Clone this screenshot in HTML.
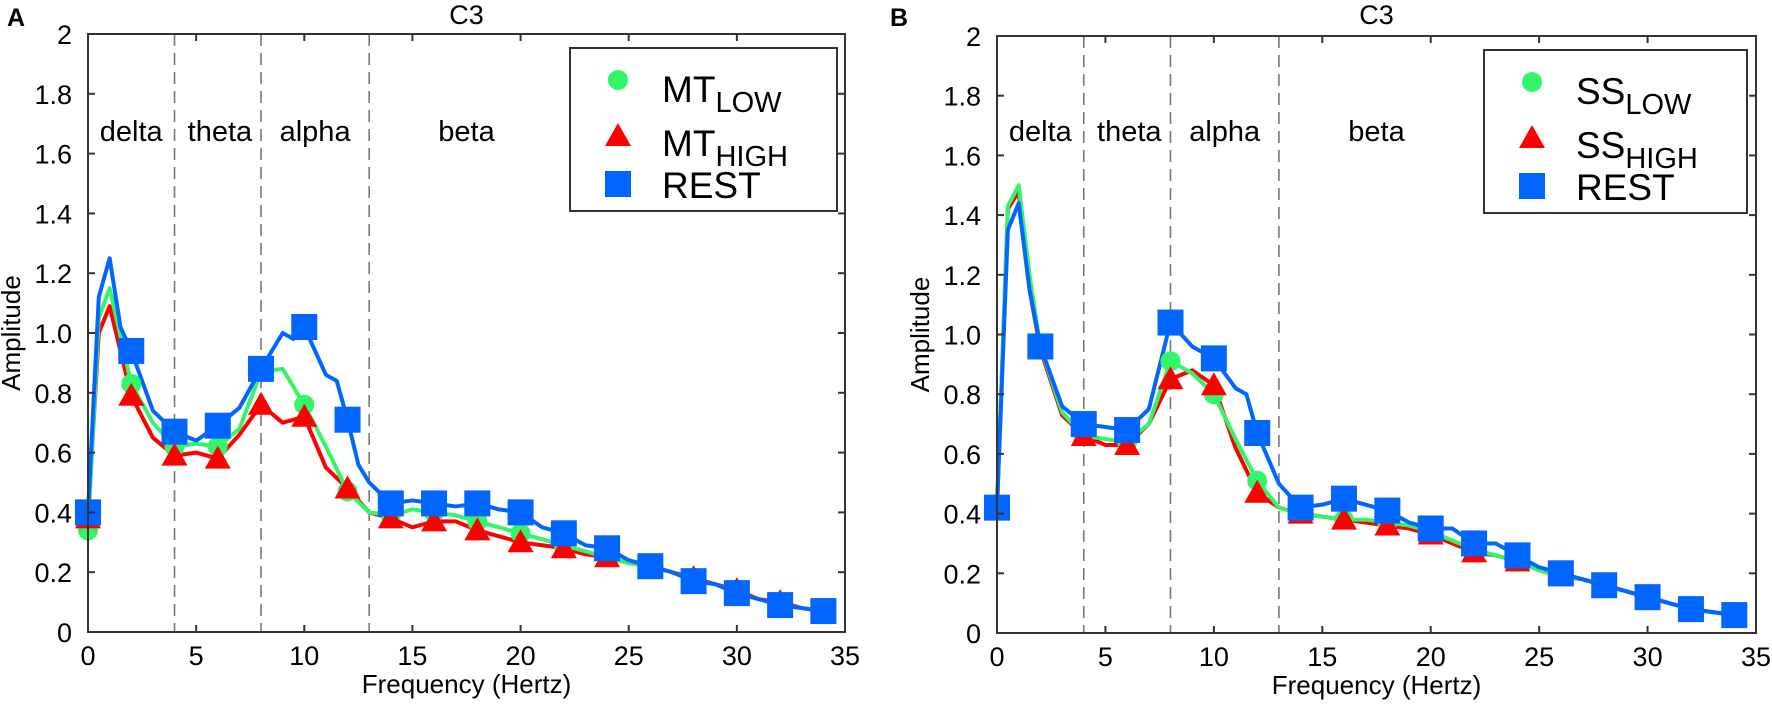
<!DOCTYPE html>
<html><head><meta charset="utf-8"><style>
html,body{margin:0;padding:0;background:#fff;}
svg{display:block;font-family:"Liberation Sans",sans-serif;}
</style></head><body>
<svg id="s" width="1772" height="705" xmlns="http://www.w3.org/2000/svg"></svg>
<script>
const S=document.getElementById('s');let h='';
const panels=[
{L:'A',lxL:7,x0:88,x1:845,y0:632,y2:34,lx:570,lx2:837,pre:'MT',
blue:[[0,.40],[.5,1.12],[1,1.25],[1.5,1.02],[2,.94],[3,.74],[4,.67],[5,.64],[6,.69],[7,.75],[8,.88],[9,1.0],[9.5,.98],[10,1.02],[11,.86],[11.5,.84],[12,.71],[12.5,.56],[13,.50],[14,.43],[15,.44],[16,.43],[17,.42],[18,.43],[19,.41],[20,.40],[21,.35],[22,.33],[23,.29],[24,.28],[25,.24],[26,.22],[27,.20],[28,.17],[29,.16],[30,.13],[31,.11],[32,.09],[33,.08],[34,.07]],
green:[[0,.34],[.5,1.05],[1,1.15],[2,.83],[3,.70],[4,.62],[5,.63],[6,.62],[7,.68],[8,.87],[9,.88],[10,.76],[11,.62],[12,.47],[13,.40],[14,.39],[15,.41],[16,.40],[17,.39],[18,.37],[19,.35],[20,.33],[21,.31],[22,.29],[23,.27],[24,.25],[25,.23],[26,.22],[27,.20],[28,.17],[29,.16],[30,.13],[31,.11],[32,.09],[33,.08],[34,.07]],
red:[[0,.38],[.5,1.0],[1,1.09],[2,.79],[3,.65],[4,.59],[5,.60],[6,.58],[7,.66],[8,.76],[9,.70],[10,.72],[11,.55],[12,.48],[13,.40],[14,.38],[15,.35],[16,.37],[17,.37],[18,.34],[19,.32],[20,.30],[21,.29],[22,.28],[23,.26],[24,.25],[25,.23],[26,.22],[27,.20],[28,.18],[29,.16],[30,.14],[31,.11],[32,.10],[33,.08],[34,.07]]},
{L:'B',lxL:890,x0:997,x1:1756,y0:633,y2:36,lx:1484,lx2:1747,pre:'SS',
blue:[[0,.42],[.5,1.35],[1,1.44],[1.5,1.15],[2,.96],[3,.76],[4,.70],[5,.69],[6,.68],[7,.75],[8,1.04],[9,.96],[10,.92],[11,.82],[11.5,.80],[12,.67],[13,.50],[14,.42],[15,.43],[16,.45],[17,.43],[18,.41],[19,.37],[20,.35],[21,.35],[22,.30],[23,.30],[24,.26],[25,.22],[26,.20],[27,.18],[28,.16],[29,.14],[30,.12],[31,.10],[32,.08],[33,.07],[34,.06]],
green:[[0,.42],[.5,1.43],[1,1.50],[1.5,1.2],[2,.96],[3,.74],[4,.66],[5,.65],[6,.64],[7,.70],[8,.91],[9,.87],[10,.80],[11,.65],[12,.51],[13,.42],[14,.40],[15,.39],[16,.38],[17,.38],[18,.37],[19,.36],[20,.34],[21,.31],[22,.28],[23,.26],[24,.24],[25,.21],[26,.19],[27,.18],[28,.16],[29,.14],[30,.12],[31,.10],[32,.08],[33,.07],[34,.06]],
red:[[0,.42],[.5,1.42],[1,1.48],[1.5,1.15],[2,.95],[3,.73],[4,.66],[5,.63],[6,.63],[7,.70],[8,.85],[9,.88],[10,.83],[11,.62],[12,.47],[13,.42],[14,.40],[15,.39],[16,.38],[17,.37],[18,.36],[19,.35],[20,.33],[21,.30],[22,.27],[23,.26],[24,.24],[25,.21],[26,.19],[27,.18],[28,.16],[29,.14],[30,.12],[31,.10],[32,.08],[33,.07],[34,.06]]}];
const G='#33f56a',R='#ff0000',B='#0066ff';
function circ(x,y){return `<circle cx="${x}" cy="${y}" r="10" fill="${G}"/>`}
function tri(x,y){return `<polygon points="${x-13},${y+10} ${x+13},${y+10} ${x},${y-13}" fill="${R}"/>`}
function sq(x,y){return `<rect x="${x-13}" y="${y-13}" width="26" height="26" fill="${B}"/>`}
for(const p of panels){
 const X=f=>p.x0+(p.x1-p.x0)*f/35, Y=a=>p.y0-(p.y0-p.y2)*a/2;
 const cx=(p.x0+p.x1)/2;
 h+=`<text x="${p.lxL}" y="26" font-size="25" font-weight="bold">${p.L}</text>`;
 h+=`<text x="${cx}" y="24" font-size="27" text-anchor="middle">C3</text>`;
 for(const f of [4,8,13]) h+=`<line x1="${X(f)}" x2="${X(f)}" y1="${p.y2}" y2="${p.y0}" stroke="#777" stroke-width="1.6" stroke-dasharray="12,7"/>`;
 [['delta',2],['theta',6.1],['alpha',10.5],['beta',17.5]].forEach(([t,f])=>h+=`<text x="${X(f)}" y="141" font-size="29" text-anchor="middle">${t}</text>`);
 for(const [k,c] of [['red',R],['green',G],['blue',B]]){
  h+=`<polyline fill="none" stroke="${c}" stroke-width="4" stroke-linejoin="round" points="${p[k].map(d=>X(d[0])+','+Y(d[1])).join(' ')}"/>`;
 }
 const val=(k,f)=>p[k].find(d=>d[0]==f)[1];
 for(let f=0;f<=34;f+=2) h+=circ(X(f),Y(val('green',f)));
 for(let f=0;f<=34;f+=2) h+=tri(X(f),Y(val('red',f)));
 for(let f=0;f<=34;f+=2) h+=sq(X(f),Y(val('blue',f)));
 h+=`<rect x="${p.x0}" y="${p.y2}" width="${p.x1-p.x0}" height="${p.y0-p.y2}" fill="none" stroke="#333" stroke-width="2"/>`;
 for(let f=0;f<=35;f+=5){const x=X(f);
  h+=`<line x1="${x}" x2="${x}" y1="${p.y0}" y2="${p.y0-7}" stroke="#333" stroke-width="2"/><line x1="${x}" x2="${x}" y1="${p.y2}" y2="${p.y2+7}" stroke="#333" stroke-width="2"/>`;
  h+=`<text x="${x}" y="${p.y0+33}" font-size="27" text-anchor="middle">${f}</text>`;}
 for(let i=0;i<=10;i++){const a=i*0.2,y=Y(a);
  h+=`<line x1="${p.x0}" x2="${p.x0+7}" y1="${y}" y2="${y}" stroke="#333" stroke-width="2"/><line x1="${p.x1}" x2="${p.x1-7}" y1="${y}" y2="${y}" stroke="#333" stroke-width="2"/>`;
  const t=i==0?'0':(i==10?'2':a.toFixed(1));
  h+=`<text x="${p.x0-16}" y="${y+10}" font-size="27" text-anchor="end">${t}</text>`;}
 h+=`<text x="${cx}" y="${p.y0+61}" font-size="26" text-anchor="middle">Frequency (Hertz)</text>`;
 h+=`<text transform="translate(${p.x0-68},${(p.y0+p.y2)/2}) rotate(-90)" font-size="26" text-anchor="middle">Amplitude</text>`;
 const ly=p.L=='A'?48:50;
 h+=`<rect x="${p.lx}" y="${ly}" width="${p.lx2-p.lx}" height="163" fill="#fff" stroke="#333" stroke-width="2"/>`;
 const mx=p.lx+48,tx=p.lx+92;
 h+=circ(mx,ly+32)+tri(mx,ly+88)+sq(mx,ly+136);
 h+=`<text x="${tx}" y="${ly+54}" font-size="37">${p.pre}<tspan font-size="29" dy="10">LOW</tspan></text>`;
 h+=`<text x="${tx}" y="${ly+108}" font-size="37">${p.pre}<tspan font-size="29" dy="10">HIGH</tspan></text>`;
 h+=`<text x="${tx}" y="${ly+150}" font-size="37">REST</text>`;
}
S.innerHTML=h;
</script>
</body></html>
